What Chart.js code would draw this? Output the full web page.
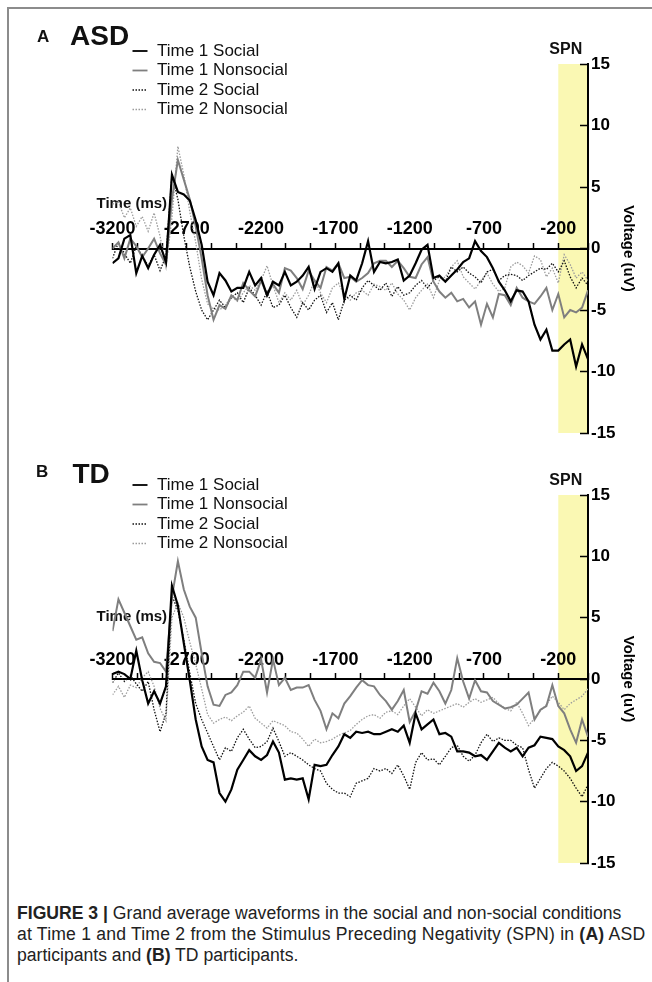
<!DOCTYPE html>
<html>
<head>
<meta charset="utf-8">
<script src="https://cdn.jsdelivr.net/npm/chart.js"></script>
<style>
html, body { margin: 0; padding: 0; background: #fff; }
body { width: 652px; height: 982px; position: relative; overflow: hidden; font-family: "Liberation Sans", Arial, sans-serif; }
.frame { position: absolute; left: 7px; top: 7px; width: 700px; height: 1000px; border-left: 2px solid #8c8c8c; border-top: 2px solid #8c8c8c; }
canvas { position: absolute; left: 0; }
#chartA { top: 0; }
#chartB { top: 470px; }
.tag { position: absolute; font-weight: bold; color: #111; white-space: nowrap; }
.caption { position: absolute; left: 17px; top: 903.3px; font-size: 17.6px; line-height: 21px; color: #222; white-space: nowrap; }
.caption span { display: block; }
</style>
</head>
<body>
<div class="frame"></div>
<canvas id="chartA" width="652" height="470"></canvas>
<canvas id="chartB" width="652" height="430"></canvas>

<div class="tag" style="left:37px;top:27.6px;font-size:17px;line-height:17px;">A</div>
<div class="tag" style="left:70px;top:22.3px;font-size:28px;line-height:28px;">ASD</div>
<div class="tag" style="left:36px;top:462.6px;font-size:17px;line-height:17px;">B</div>
<div class="tag" style="left:72.5px;top:459.6px;font-size:28px;line-height:28px;">TD</div>

<div class="caption">
  <span><b>FIGURE 3 |</b> Grand average waveforms in the social and non-social conditions</span>
  <span style="letter-spacing:0.2px;">at Time 1 and Time 2 from the Stimulus Preceding Negativity (SPN) in <b>(A)</b> ASD</span>
  <span>participants and <b>(B)</b> TD participants.</span>
</div>

<script>
// time axis (ms) shared by all waveforms
var timesMs = [-3200, -3160, -3120, -3080, -3040, -3000, -2960, -2920, -2880, -2840,
  -2800, -2760, -2720, -2680, -2640, -2600, -2560, -2520, -2480, -2440,
  -2400, -2360, -2320, -2280, -2240, -2200, -2160, -2120, -2080, -2040,
  -2000, -1960, -1920, -1880, -1840, -1800, -1760, -1720, -1680, -1640,
  -1600, -1560, -1520, -1480, -1440, -1400, -1360, -1320, -1280, -1240,
  -1200, -1160, -1120, -1080, -1040, -1000, -960, -920, -880, -840,
  -800, -760, -720, -680, -640, -600, -560, -520, -480, -440,
  -400, -360, -320, -280, -240, -200, -160, -120, -80, -40, 0];

var xLabelValues = [-3200, -2700, -2200, -1700, -1200, -700, -200];
var yTickValues = [-15, -10, -5, 0, 5, 10, 15];
var seriesNames = ['Time 1 Social', 'Time 1 Nonsocial', 'Time 2 Social', 'Time 2 Nonsocial'];
var spnStart = -200, spnEnd = 0;

// (A) ASD
var asdT1Social = [-1.2, -0.8, 0.8, 1.1, -2.0, -0.6, -1.6, -0.5, 0.3, -1.1,
  6.0, 4.6, 4.4, 3.9, 2.3, 0.3, -2.7, -3.8, -2.0, -2.6,
  -3.5, -3.2, -3.2, -1.9, -3.0, -2.4, -3.8, -2.7, -3.0, -1.9,
  -3.0, -2.7, -2.2, -1.5, -3.3, -1.9, -1.6, -1.9, -1.2, -4.1,
  -2.2, -2.6, -1.2, 0.6, -1.9, -1.1, -1.2, -1.1, -0.9, -2.6,
  -2.2, -1.2, -0.1, 0.3, -2.4, -2.2, -2.7, -2.2, -1.7, -1.1,
  -0.8, 0.6, -0.2, -0.7, -1.6, -2.7, -3.4, -4.3, -3.4, -3.5,
  -4.3, -6.2, -7.4, -6.6, -8.3, -8.3, -7.8, -7.4, -9.6, -7.8, -9.0];
var asdT1Nonsocial = [0.0, 0.5, -0.8, 0.8, 0.2, -0.7, 0.0, 0.8, -0.4, -1.3,
  4.0, 7.2, 5.6, 4.0, 1.8, -0.8, -3.8, -5.8, -4.6, -4.9,
  -3.8, -4.2, -2.8, -3.4, -3.9, -2.6, -3.8, -2.9, -3.6, -1.6,
  -1.8, -2.4, -3.3, -1.8, -2.6, -3.2, -1.5, -1.8, -1.2, -2.4,
  -2.3, -2.7, -2.4, -2.0, -1.2, -1.0, -1.0, -1.5, -1.0, -1.6,
  -2.3, -2.4, -1.3, -0.7, -2.7, -3.5, -4.0, -3.6, -4.3, -4.1,
  -4.8, -4.3, -6.2, -4.5, -5.6, -3.7, -3.8, -4.6, -3.2, -4.0,
  -4.3, -4.5, -3.9, -3.2, -5.0, -3.7, -5.6, -5.0, -5.2, -4.8, -3.4];
var asdT2Social = [-0.8, 0.5, -0.4, -1.2, 0.2, -0.6, -1.4, -0.5, -1.8, -0.6,
  6.0, 4.0, 1.0, -1.5, -3.5, -5.0, -5.8, -5.0, -4.2, -4.8,
  -4.0, -3.6, -4.4, -3.2, -3.8, -4.6, -3.5, -4.8, -4.6, -3.8,
  -4.8, -5.6, -4.4, -5.0, -4.2, -3.8, -5.2, -4.4, -5.8, -4.2,
  -3.8, -4.2, -3.2, -2.6, -3.0, -3.4, -2.8, -3.9, -3.1, -3.8,
  -3.6, -3.0, -2.6, -3.2, -2.6, -2.3, -2.7, -1.5, -1.9, -1.5,
  -2.0, -2.3, -2.8, -1.9, -1.7, -2.6, -2.2, -2.1, -2.2, -2.6,
  -2.2, -1.9, -1.6, -1.7, -1.2, -1.9, -1.0, -2.3, -3.2, -2.4, -3.0];
var asdT2Nonsocial = [3.6, 3.8, 2.5, 3.3, 1.8, 2.6, 1.4, 2.9, 1.0, -1.5,
  2.5, 8.3, 6.0, 3.0, 0.5, -2.5, -4.5, -4.9, -5.0, -4.6,
  -3.9, -4.3, -3.6, -3.0, -3.4, -2.6, -1.4, -3.0, -4.4, -3.6,
  -4.2, -3.4, -4.6, -3.8, -2.6, -3.6, -4.4, -3.2, -2.8, -3.8,
  -4.2, -3.6, -3.4, -3.8, -2.9, -3.1, -3.4, -2.8, -3.7, -4.2,
  -5.0, -4.0, -3.4, -2.9, -4.0, -2.6, -2.3, -1.5, -1.0, -2.3,
  -2.8, -3.3, -2.6, -2.0, -2.9, -3.5, -3.2, -1.5, -1.1, -1.4,
  -2.0, -0.6, -0.9, -2.3, -1.6, -2.8, -0.5, -1.3, -2.4, -1.9, -2.6];

// (B) TD
var tdT1Social = [0.4, 0.6, 0.4, 0.0, 2.3, -0.1, -2.0, -1.0, -2.0, -0.6,
  7.6, 6.0, 2.9, -0.1, -3.3, -5.5, -6.6, -6.8, -9.3, -10.0,
  -9.0, -7.4, -6.6, -5.8, -6.3, -6.6, -6.2, -5.1, -6.0, -8.2,
  -8.1, -8.2, -8.1, -9.8, -7.0, -7.1, -7.0, -6.2, -5.5, -4.5,
  -4.8, -4.3, -4.4, -4.3, -4.5, -4.5, -4.3, -4.1, -4.3, -3.8,
  -5.2, -2.8, -4.1, -3.7, -3.3, -4.5, -4.4, -4.7, -5.9, -5.9,
  -6.0, -6.3, -6.2, -6.6, -5.9, -5.2, -5.6, -5.9, -5.6, -6.3,
  -5.6, -5.4, -4.7, -4.8, -4.9, -5.5, -5.8, -6.3, -7.5, -7.1, -6.0];
var tdT1Nonsocial = [3.9, 6.5, 5.4, 4.3, 3.2, 3.4, 2.1, 1.4, 1.3, 0.6,
  6.7, 9.6, 7.3, 5.9, 5.0, 2.1, -0.6, -2.1, -2.2, -1.3,
  -1.1, -0.5, 0.6, 0.6, 0.1, 1.6, -1.1, 1.6, -0.5, 0.1,
  -0.9, -0.7, -0.7, -0.5, -1.7, -2.6, -4.1, -2.8, -3.2, -2.0,
  -1.4, -0.7, -0.1, -0.5, -0.6, -1.3, -1.8, -2.5, -1.8, -0.9,
  -3.5, -2.6, -1.0, -1.2, -0.3, -1.0, -2.0, -0.9, 1.7, -0.2,
  -1.6, -0.1, -1.0, -1.1, -1.8, -2.1, -2.4, -2.3, -2.1, -1.6,
  -1.1, -3.3, -2.5, -2.2, -0.5, -2.2, -2.8, -4.1, -5.2, -3.3, -4.7];
var tdT2Social = [-0.3, 0.5, -0.2, 0.3, -0.4, -1.0, -0.2, -2.5, -4.3, -2.8,
  6.8, 5.6, 3.2, 0.5, -2.0, -3.3, -4.4, -5.5, -6.6, -5.6,
  -5.9, -4.8, -4.1, -4.9, -5.6, -5.5, -5.1, -4.0, -5.1, -6.3,
  -6.0, -6.3, -6.6, -7.0, -7.3, -7.5, -8.5, -9.0, -9.3, -9.3,
  -9.6, -8.5, -8.3, -8.1, -7.3, -7.5, -7.3, -7.7, -7.0, -7.9,
  -9.0, -6.8, -6.0, -6.6, -6.5, -7.0, -6.3, -5.6, -5.4, -6.3,
  -6.7, -6.2, -5.2, -4.5, -5.1, -4.8, -5.0, -5.0, -5.4, -5.6,
  -7.4, -8.9, -8.1, -7.3, -6.8, -7.1, -7.5, -8.1, -8.9, -9.6, -8.6];
var tdT2Nonsocial = [-1.3, -0.6, -1.5, -0.5, -0.7, 0.1, 0.6, -0.6, -2.4, -3.4,
  5.0, 6.2, 5.0, 3.0, 1.2, -0.8, -2.9, -3.6, -3.3, -3.1,
  -3.4, -3.0, -2.7, -2.2, -3.2, -3.6, -4.0, -3.4, -3.6, -3.8,
  -4.3, -4.4, -4.9, -5.5, -4.9, -5.2, -5.1, -4.9, -4.6, -4.4,
  -4.2, -3.7, -3.3, -3.0, -2.9, -3.2, -2.7, -2.6, -2.9, -2.2,
  -1.6, -2.3, -3.0, -2.5, -2.8, -2.6, -2.4, -2.2, -2.0, -2.3,
  -1.9, -1.6, -1.9, -1.7, -1.5, -2.0, -2.4, -2.6, -1.9, -2.8,
  -3.8, -3.2, -2.6, -2.1, -1.4, -1.9, -2.5, -2.0, -1.7, -1.4, -0.8];

var fontFamily = '"Liberation Sans", Arial, Helvetica, sans-serif';
Chart.defaults.font.family = fontFamily;
Chart.defaults.color = '#000';

// line looks, in legend order
var looks = [
  {borderColor: '#000000', borderWidth: 2.2, borderDash: []},
  {borderColor: '#7f7f7f', borderWidth: 2, borderDash: []},
  {borderColor: '#111111', borderWidth: 1.3, borderDash: [1.5, 1.5]},
  {borderColor: '#9c9c9c', borderWidth: 1.3, borderDash: [1.5, 1.5]}
];

function makeDatasets(lists) {
  return lists.map(function(vals, i) {
    return {
      label: seriesNames[i],
      data: vals.map(function(v, j) { return {x: timesMs[j], y: v}; }),
      borderColor: looks[i].borderColor,
      borderWidth: looks[i].borderWidth,
      borderDash: looks[i].borderDash,
      pointRadius: 0,
      tension: 0,
      fill: false
    };
  });
}

// yellow SPN window, its label, the "Time (ms)" label and the legend
var spnDecor = {
  id: 'spnDecor',
  beforeDraw: function(chart, args, opts) {
    var ctx = chart.ctx, xs = chart.scales.x, ys = chart.scales.y;
    var left = xs.getPixelForValue(spnStart), right = xs.getPixelForValue(spnEnd);
    var top = ys.getPixelForValue(ys.max), bottom = ys.getPixelForValue(ys.min);
    ctx.save();
    ctx.fillStyle = '#faf8b3';
    ctx.fillRect(left, top, right - left, bottom - top);

    ctx.fillStyle = '#111';
    ctx.font = 'bold 16px ' + fontFamily;
    ctx.textAlign = 'center';
    ctx.textBaseline = 'middle';
    ctx.fillText('SPN', left + 7.5, top - 14);

    ctx.font = 'bold 15px ' + fontFamily;
    ctx.textAlign = 'left';
    ctx.fillText('Time (ms)', xs.left - 16, ys.getPixelForValue(0) + opts.timeDy);
    ctx.restore();
  },
  afterDraw: function(chart, args, opts) {
    var ctx = chart.ctx, area = chart.chartArea;
    ctx.save();
    ctx.font = '17px ' + fontFamily;
    ctx.textBaseline = 'middle';
    chart.data.datasets.forEach(function(ds, i) {
      var y = area.top + opts.legendDy + i * 19.5;
      ctx.strokeStyle = ds.borderColor;
      ctx.lineWidth = Math.min(ds.borderWidth, 1.8);
      ctx.setLineDash(ds.borderDash);
      ctx.beginPath();
      ctx.moveTo(area.left + 20, y);
      ctx.lineTo(area.left + 35, y);
      ctx.stroke();
      ctx.setLineDash([]);
      ctx.fillStyle = '#111';
      ctx.fillText(ds.label, area.left + 44.5, y);
    });
    ctx.restore();
  }
};

function makeChart(id, lists, decor, pad) {
  return new Chart(document.getElementById(id), {
    type: 'line',
    data: {datasets: makeDatasets(lists)},
    plugins: [spnDecor],
    options: {
      responsive: false,
      animation: false,
      events: [],
      layout: {padding: pad},
      plugins: {
        legend: {display: false},
        tooltip: {enabled: false},
        spnDecor: decor
      },
      scales: {
        x: {
          type: 'linear',
          min: -3200,
          max: 0,
          position: {y: 0},
          afterBuildTicks: function(scale) {
            var t = [];
            xLabelValues.forEach(function(v) {
              t.push({value: v});
              if (v < -200) {
                t.push({value: v + 500 / 3});
                t.push({value: v + 1000 / 3});
              }
            });
            t.push({value: 0});
            scale.ticks = t;
          },
          grid: {drawOnChartArea: false, tickLength: -7, tickWidth: 1.5, tickColor: '#000'},
          border: {color: '#000', width: 2},
          ticks: {
            autoSkip: false,
            maxRotation: 0,
            padding: -23,
            color: '#000',
            font: {size: 18, weight: 'bold'},
            callback: function(value) {
              return xLabelValues.indexOf(value) >= 0 ? String(value) : '';
            }
          }
        },
        y: {
          position: 'right',
          min: -15,
          max: 15,
          afterBuildTicks: function(scale) {
            scale.ticks = yTickValues.map(function(v) { return {value: v}; });
          },
          afterFit: function(scale) { scale.width = 64; },
          grid: {drawOnChartArea: false, tickLength: -8, tickWidth: 1.5, tickColor: '#000'},
          border: {color: '#000', width: 2},
          ticks: {padding: 11, color: '#000', font: {size: 17, weight: 'bold'}},
          title: {
            display: true,
            text: 'Voltage (uV)',
            color: '#000',
            font: {size: 15, weight: 'bold'},
            padding: {top: 14.5, bottom: 0}
          }
        }
      }
    }
  });
}

makeChart('chartA', [asdT1Social, asdT1Nonsocial, asdT2Social, asdT2Nonsocial],
  {legendDy: -13, timeDy: -44.5}, {left: 112.5, top: 64, right: 0, bottom: 37});
makeChart('chartB', [tdT1Social, tdT1Nonsocial, tdT2Social, tdT2Nonsocial],
  {legendDy: -10, timeDy: -62.3}, {left: 112.5, top: 25, right: 0, bottom: 37});
</script>
</body>
</html>
